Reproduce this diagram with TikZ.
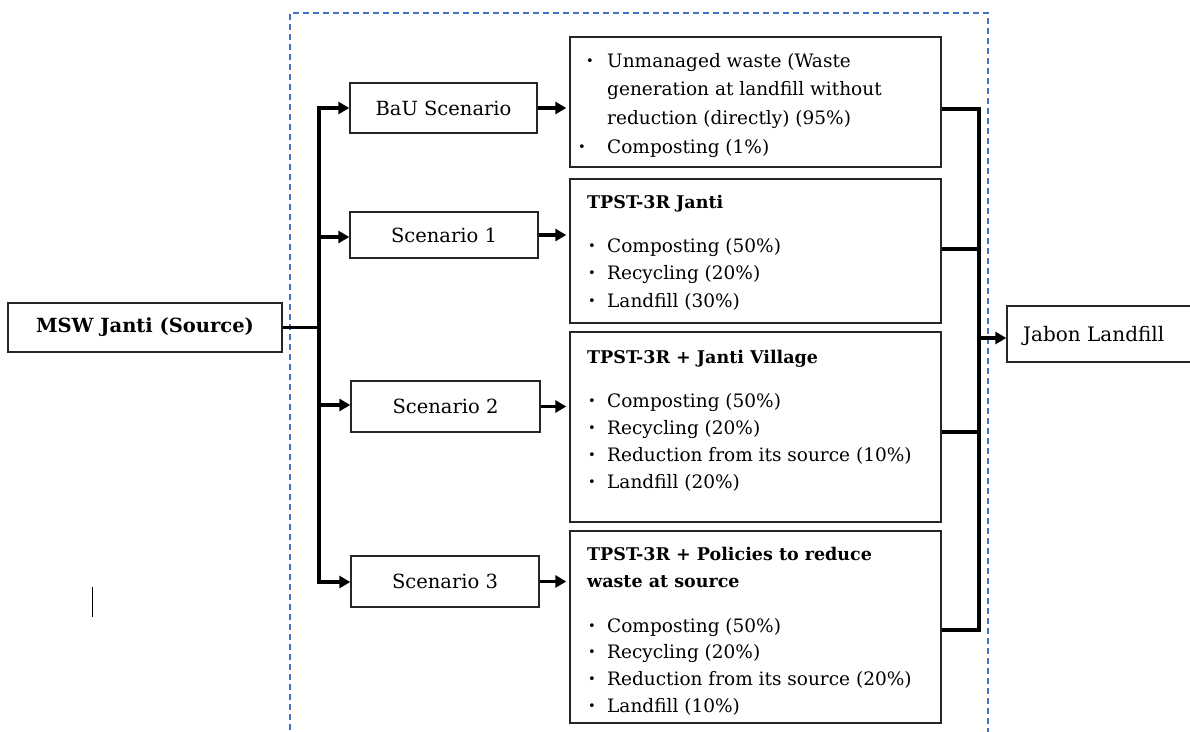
\documentclass[tikz,border=0pt]{standalone}
\usepackage{fontspec}
\setmainfont{DejaVu Serif}
\usetikzlibrary{arrows.meta}
\definecolor{dashblue}{RGB}{68,114,196}
\begin{document}
\begin{tikzpicture}[x=1pt,y=-1pt,
  box/.style={draw=black!85, line width=1.4pt, inner sep=0pt, font=\fontsize{19.5}{22}\selectfont},
  conn/.style={line width=3.2pt, black},
  arr/.style={conn, -{Triangle[length=11pt,width=12pt]}},
  txt/.style={anchor=base west, inner sep=0pt, font=\fontsize{18.5}{22}\selectfont},
  ttl/.style={anchor=base west, inner sep=0pt, font=\fontsize{17.5}{22}\selectfont\bfseries},
  bul/.style={anchor=base west, inner sep=0pt, font=\fontsize{13}{14}\selectfont}
]
\useasboundingbox (0,0) rectangle (1190,731);
% dashed frame
\draw[dashblue, line width=1.3pt, dash pattern=on 6pt off 4pt] (290,740) -- (290,13) -- (988,13) -- (988,740);
% stray mark
\draw[black, line width=0.8pt] (92,587) -- (92,617);

% boxes
\node[box, minimum width=274pt, minimum height=49pt, font=\fontsize{19.5}{22}\selectfont\bfseries] (msw) at (145,327.5) {MSW Janti (Source)};
\node[box, minimum width=187pt, minimum height=50pt] (bau) at (443.5,108) {BaU Scenario};
\node[box, minimum width=188pt, minimum height=46pt] (s1) at (444,235) {Scenario 1};
\node[box, minimum width=189pt, minimum height=51pt] (s2) at (445.5,406.5) {Scenario 2};
\node[box, minimum width=188pt, minimum height=51pt] (s3) at (445,581.5) {Scenario 3};
\node[box, minimum width=371pt, minimum height=130pt] (c0) at (755.5,102) {};
\node[box, minimum width=371pt, minimum height=144pt] (c1) at (755.5,251) {};
\node[box, minimum width=371pt, minimum height=190pt] (c2) at (755.5,427) {};
\node[box, minimum width=371pt, minimum height=192pt] (c3) at (755.5,627) {};
\node[box, minimum width=193pt, minimum height=56pt] (jab) at (1103.5,334) {};
\node[txt, font=\fontsize{20}{22}\selectfont] (jabt) at (1023,341) {Jabon Landfill};

% content c0
\node[bul] (b0a) at (586,67) {\raisebox{1.5pt}{•}};
\node[txt] (t0a) at (607,67) {Unmanaged waste (Waste};
\node[txt] (t0b) at (607,95) {generation at landfill without};
\node[txt] (t0c) at (607,124) {reduction (directly) (95\%)};
\node[bul] (b0d) at (578,153) {\raisebox{1.5pt}{•}};
\node[txt] (t0d) at (607,153) {Composting (1\%)};
% content c1
\node[ttl] (h1) at (587,208) {TPST-3R Janti};
\node[bul] (b1a) at (588,252) {\raisebox{1.5pt}{•}};
\node[txt] (t1a) at (607,252) {Composting (50\%)};
\node[bul] (b1b) at (588,279) {\raisebox{1.5pt}{•}};
\node[txt] (t1b) at (607,279) {Recycling (20\%)};
\node[bul] (b1c) at (588,307) {\raisebox{1.5pt}{•}};
\node[txt] (t1c) at (607,307) {Landfill (30\%)};
% content c2
\node[ttl] (h2) at (587,363) {TPST-3R + Janti Village};
\node[bul] (b2a) at (588,407) {\raisebox{1.5pt}{•}};
\node[txt] (t2a) at (607,407) {Composting (50\%)};
\node[bul] (b2b) at (588,434) {\raisebox{1.5pt}{•}};
\node[txt] (t2b) at (607,434) {Recycling (20\%)};
\node[bul] (b2c) at (588,461) {\raisebox{1.5pt}{•}};
\node[txt] (t2c) at (607,461) {Reduction from its source (10\%)};
\node[bul] (b2d) at (588,488) {\raisebox{1.5pt}{•}};
\node[txt] (t2d) at (607,488) {Landfill (20\%)};
% content c3
\node[ttl] (h3a) at (587,560) {TPST-3R + Policies to reduce};
\node[ttl] (h3b) at (587,587) {waste at source};
\node[bul] (b3a) at (588,632) {\raisebox{1.5pt}{•}};
\node[txt] (t3a) at (607,632) {Composting (50\%)};
\node[bul] (b3b) at (588,658) {\raisebox{1.5pt}{•}};
\node[txt] (t3b) at (607,658) {Recycling (20\%)};
\node[bul] (b3c) at (588,685) {\raisebox{1.5pt}{•}};
\node[txt] (t3c) at (607,685) {Reduction from its source (20\%)};
\node[bul] (b3d) at (588,712) {\raisebox{1.5pt}{•}};
\node[txt] (t3d) at (607,712) {Landfill (10\%)};

% left trunk
\coordinate (tr0) at (319,108);
\coordinate (tr1) at (319,237);
\coordinate (tr2) at (319,405);
\coordinate (tr3) at (319,582);
\draw[conn] (msw.east) -- (msw.east -| tr0);
\draw[conn, line cap=rect] (tr0) -- (tr3);
\draw[arr] (tr0) -- (bau.west |- tr0);
\draw[arr] (tr1) -- (s1.west |- tr1);
\draw[arr] (tr2) -- (s2.west |- tr2);
\draw[arr] (tr3) -- (s3.west |- tr3);

% scenario to content
\draw[arr, shorten >=3pt] (bau.east) -- (bau.east -| c0.west);
\draw[arr, shorten >=3pt] (s1.east) -- (s1.east -| c1.west);
\draw[arr, shorten >=3pt] (s2.east) -- (s2.east -| c2.west);
\draw[arr, shorten >=3pt] (s3.east) -- (s3.east -| c3.west);

% right spine
\coordinate (sp0) at (979,109);
\coordinate (sp1) at (979,249);
\coordinate (sp2) at (979,432);
\coordinate (sp3) at (979,630);
\coordinate (spj) at (979,338);
\draw[conn] (c0.east |- sp0) -- (sp0);
\draw[conn] (c1.east |- sp1) -- (sp1);
\draw[conn] (c2.east |- sp2) -- (sp2);
\draw[conn] (c3.east |- sp3) -- (sp3);
\draw[conn, line cap=rect] (sp0) -- (sp3);
\draw[arr] (spj) -- (jab.west |- spj);
\end{tikzpicture}
\end{document}
